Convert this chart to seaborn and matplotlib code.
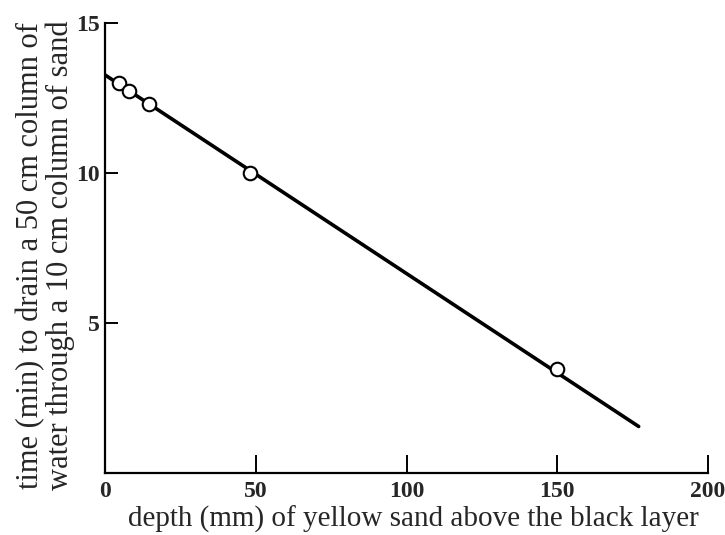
import matplotlib
matplotlib.use("Agg")
import matplotlib.pyplot as plt
import seaborn as sns
import pandas as pd

# data
depth_mm = [4.6, 8.0, 14.7, 48.0, 150.0]
drain_time_min = [13.0, 12.75, 12.3, 10.0, 3.45]
fit_depth = [0.0, 177.0]
fit_time = [13.27, 1.55]
x_ticks = [0, 50, 100, 150, 200]
y_ticks = [5, 10, 15]

sns.set_style("ticks")
plt.rcParams['font.family'] = ['Liberation Serif', 'DejaVu Serif']

fig = plt.figure(figsize=(7.25, 5.35), dpi=100)
ax = fig.add_axes([0.1448, 0.1159, 0.8318, 0.8411])

pts = pd.DataFrame({"depth": depth_mm, "time": drain_time_min})
fit = pd.DataFrame({"depth": fit_depth, "time": fit_time})

sns.lineplot(data=fit, x="depth", y="time", color="black", linewidth=2.6, ax=ax, zorder=2)
sns.scatterplot(data=pts, x="depth", y="time", marker="o", s=95, facecolor="white",
                edgecolor="black", linewidth=1.5, ax=ax, zorder=3)

ax.set_xlim(0, 200)
ax.set_ylim(0, 15)
ax.set_xticks(x_ticks)
ax.set_xticklabels([str(t) for t in x_ticks], fontweight="bold", fontsize=17)
ax.set_yticks(y_ticks)
ax.set_yticklabels([str(t) for t in y_ticks], fontweight="bold", fontsize=17)
ax.tick_params(axis="x", direction="in", length=13, width=1.4, pad=6, color="black")
ax.tick_params(axis="y", direction="in", length=9, width=1.4, pad=4, color="black")
for s in ["top", "right"]:
    ax.spines[s].set_visible(False)
for s in ["left", "bottom"]:
    ax.spines[s].set_linewidth(1.6)
    ax.spines[s].set_color("black")

ax.set_xlabel("depth (mm) of yellow sand above the black layer", fontsize=21)
ax.xaxis.set_label_coords(0.512, -0.073)
ax.set_ylabel("time (min) to drain a 50 cm column of\nwater through a 10 cm column of sand",
              fontsize=22, linespacing=1.0)
ax.yaxis.set_label_coords(-0.05, 0.484)

fig.savefig("out.png", dpi=100)
